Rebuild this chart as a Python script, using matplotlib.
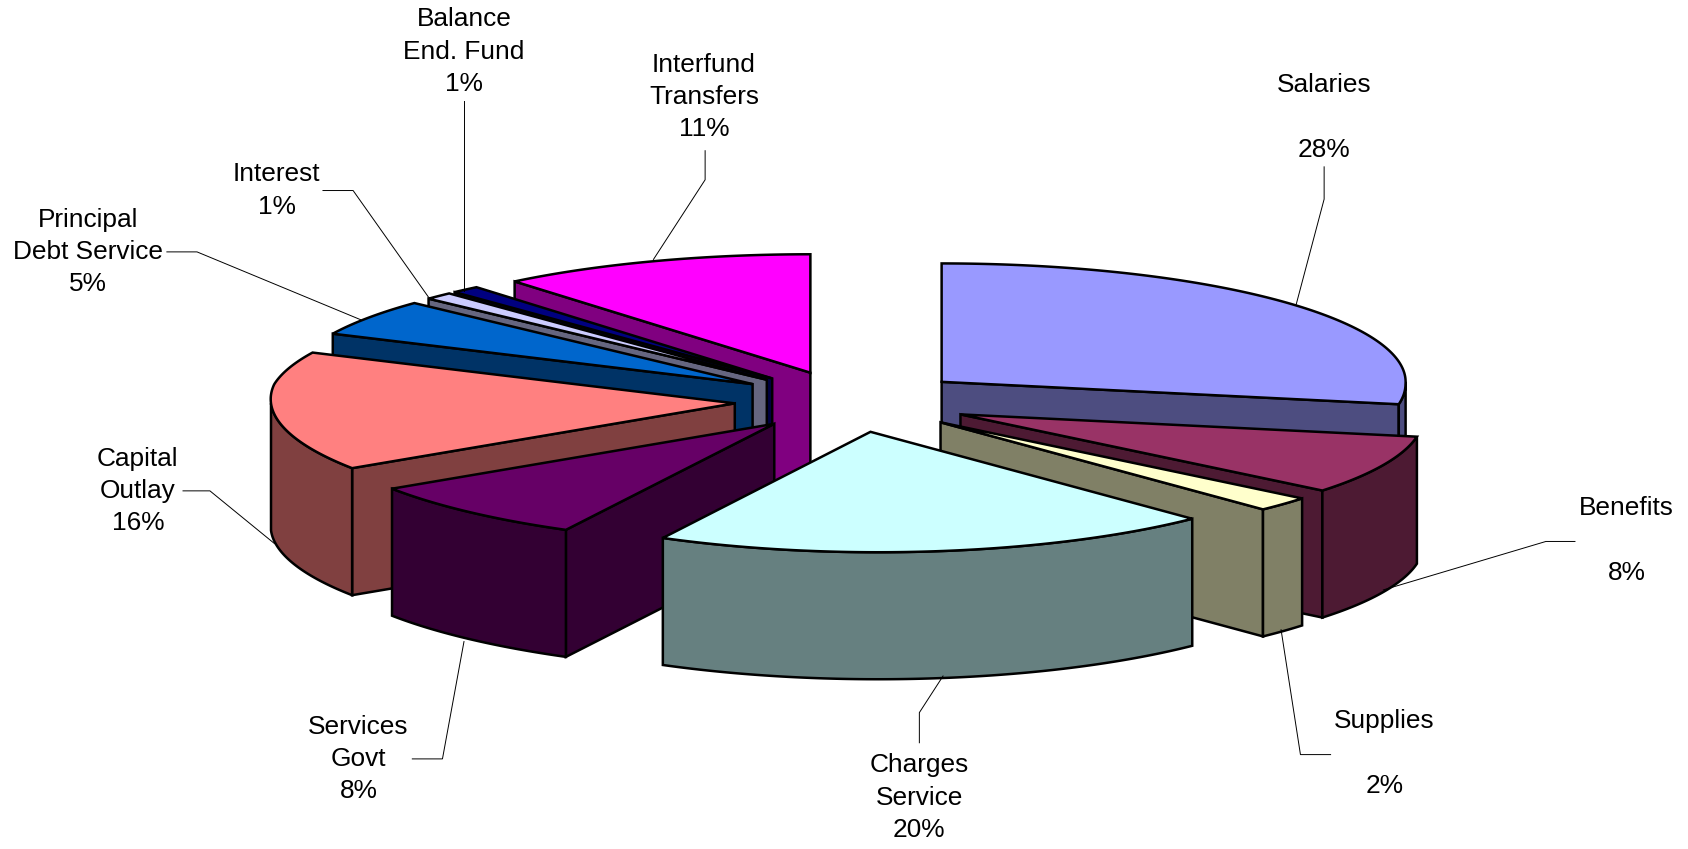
import numpy as np
import matplotlib
matplotlib.use('Agg')
import matplotlib.pyplot as plt
from matplotlib.patches import Polygon

plt.rcParams['font.family'] = ['Liberation Sans', 'DejaVu Sans']

# clockwise from 12 o'clock
names = ['Salaries\n', 'Benefits\n', 'Supplies\n', 'Charges\nService', 'Services\nGovt',
         'Capital\nOutlay', 'Principal\nDebt Service', 'Interest', 'Balance\nEnd. Fund',
         'Interfund\nTransfers']
values = [28, 8, 2, 20, 8, 16, 5, 1, 1, 11]
tops = ['#9999FF', '#993366', '#FFFFCC', '#CCFFFF', '#660066',
        '#FF8080', '#0066CC', '#CCCCFF', '#000080', '#FF00FF']
sides = ['#4D4D80', '#4D1A33', '#808066', '#668080', '#330033',
         '#804040', '#003366', '#666680', '#000040', '#800080']

# layout, in pixels of the 1568 wide view
cx, cy = 790, 372.6
rx, ry = 431, 110
explode = 0.255
depth = 118
label_pos = [(1230, 109), (1511, 502), (1286, 700), (854, 741), (333, 705),
             (128, 456), (82, 234), (257, 177), (431, 48), (654, 90)]
leaders = [[(1230, 155), (1230, 185), (1204, 283)],
           [(1463, 503), (1436, 503), (1285, 548)],
           [(1236, 701), (1208, 701), (1190, 585)],
           [(854, 690), (854, 662), (876, 628)],
           [(383, 705), (411, 705), (431, 596)],
           [(170, 456), (195, 456), (255, 505)],
           [(155, 234), (183, 234), (335, 297)],
           [(300, 177), (328, 177), (398, 276)],
           [(431, 94), (431, 270)],
           [(655, 140), (655, 167), (607, 241)]]


def persp(p):
    # the original has some perspective: the front lower left is pulled to the right
    p = np.asarray(p, dtype=float)
    w = np.clip(1-(p[:, 0]-600)/1000, 0.5, 1)
    dx = 0.14*np.maximum(p[:, 1]-357, 0)*w
    return np.column_stack([p[:, 0]+dx, p[:, 1]+0.15*dx])


def arc(t1, t2, x0, y0):
    t = np.radians(np.linspace(t1, t2, max(int(abs(t2-t1))*2, 2)))
    return persp(np.column_stack([x0+rx*np.sin(t), y0-ry*np.cos(t)]))


fig = plt.figure(figsize=(16.88, 8.49), dpi=100)
ax = fig.add_axes([0, 0, 1, 1])
ax.set_xlim(0, 1568)
ax.set_ylim(788.7, 0)
ax.axis('off')

edges = np.cumsum([0]+values)*3.6
mids = (edges[:-1]+edges[1:])/2
order = np.argsort(-np.cos(np.radians(mids)))  # back slices first


def face(pts, col):
    ax.add_patch(Polygon(pts, closed=True, fc=col, ec='black', lw=1.8, joinstyle='miter'))


down = np.array([0, depth])
for i in order:
    t1, t2, m = edges[i], edges[i+1], np.radians(mids[i])
    x0 = cx+explode*rx*np.sin(m)
    y0 = cy-explode*ry*np.cos(m)
    apex = persp([[x0, y0]])
    # cut faces, only the ones turned to the viewer
    if np.sin(np.radians(t1)) < -1e-6:
        p = np.vstack([apex, arc(t1, t1, x0, y0)[:1]])
        face(np.vstack([p, p[::-1]+down]), sides[i])
    if np.sin(np.radians(t2)) > 1e-6:
        p = np.vstack([apex, arc(t2, t2, x0, y0)[:1]])
        face(np.vstack([p, p[::-1]+down]), sides[i])
    # outer rim, front half of the ellipse only
    a, b = max(t1, 90), min(t2, 270)
    if b > a:
        p = arc(a, b, x0, y0)
        face(np.vstack([p, p[::-1]+down]), sides[i])
    face(np.vstack([apex, arc(t1, t2, x0, y0)]), tops[i])

for pts in leaders:
    xs, ys = zip(*pts)
    ax.plot(xs, ys, color='black', lw=0.7, solid_joinstyle='miter')

for n, v, (x, y) in zip(names, values, label_pos):
    ax.text(x, y, '%s\n%d%%' % (n, v), ha='center', va='center', fontsize=18.9,
            linespacing=1.43, color='black')

fig.savefig('out.png', dpi=100)
